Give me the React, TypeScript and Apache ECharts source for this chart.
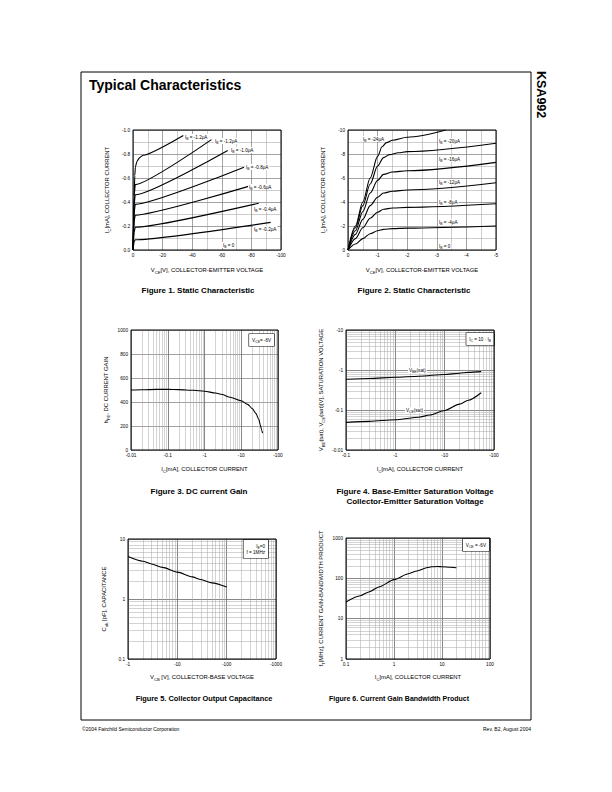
import React, { useEffect, useRef } from 'react';
import * as echarts from 'echarts';

const FONT = '"Liberation Sans", Arial, Helvetica, sans-serif';

// ---------------- Figure 1: Static Characteristic (|VCE| V, |IC| mA)
const fig1XTicks = [0, 20, 40, 60, 80, 100];
const fig1YTicks = [0, 0.2, 0.4, 0.6, 0.8, 1.0];
const fig1IbTop = [[0, 0], [0.8, 0.45], [1.2, 0.62], [1.6, 0.69], [2.7, 0.74], [4.5, 0.77], [6.8, 0.79], [34, 0.955]];
const fig1Ib12 = [[0, 0], [0.8, 0.45], [1.5, 0.545], [53, 0.92]];
const fig1Ib10 = [[0, 0], [0.8, 0.38], [1.5, 0.46], [64, 0.83]];
const fig1Ib08 = [[0, 0], [0.8, 0.31], [1.5, 0.38], [75, 0.69]];
const fig1Ib06 = [[0, 0], [0.8, 0.24], [1.5, 0.29], [78, 0.53]];
const fig1Ib04 = [[0, 0], [0.8, 0.15], [1.5, 0.19], [85, 0.39]];
const fig1Ib02 = [[0, 0], [0.8, 0.07], [1.5, 0.085], [93, 0.23]];
const fig1Labels = ['-1.2μA', '-1.2μA', '-1.0μA', '-0.8μA', '-0.6μA', '-0.4μA', '-0.2μA', '0'];

// ---------------- Figure 2: Static Characteristic (|VCE| V, |IC| mA)
const fig2XTicks = [0, 1, 2, 3, 4, 5];
const fig2YTicks = [0, 2, 4, 6, 8, 10];
const fig2Ib24 = [[0, 0], [0.25, 2.0], [0.5, 4.0], [0.75, 6.0], [1.0, 7.8], [1.15, 8.6], [1.3, 8.95], [1.5, 9.15], [2, 9.4], [3.3, 10.0]];
const fig2Ib20 = [[0, 0], [0.25, 1.85], [0.5, 3.7], [0.75, 5.5], [1.0, 7.0], [1.2, 7.7], [1.4, 7.95], [1.7, 8.1], [2, 8.2], [5, 8.9]];
const fig2Ib16 = [[0, 0], [0.25, 1.6], [0.5, 3.2], [0.75, 4.75], [1.0, 5.8], [1.2, 6.3], [1.5, 6.5], [2, 6.6], [5, 7.3]];
const fig2Ib12 = [[0, 0], [0.25, 1.3], [0.5, 2.55], [0.75, 3.7], [1.0, 4.4], [1.2, 4.75], [1.5, 4.9], [2, 5.0], [5, 5.6]];
const fig2Ib08 = [[0, 0], [0.25, 0.95], [0.5, 1.85], [0.75, 2.65], [1.0, 3.15], [1.2, 3.4], [1.5, 3.5], [2, 3.55], [5, 3.85]];
const fig2Ib04 = [[0, 0], [0.25, 0.5], [0.5, 0.95], [0.75, 1.35], [1.0, 1.6], [1.2, 1.72], [1.5, 1.78], [2, 1.82], [5, 2.0]];
const fig2Labels = ['-24μA', '-20μA', '-16μA', '-12μA', '-8μA', '-4μA', '0'];

// ---------------- Figure 3: DC current gain (|IC| mA, hFE)
const fig3Ic = [0.01, 0.02, 0.05, 0.1, 0.2, 0.5, 1, 2, 3, 5, 10, 15, 20, 25, 30, 33, 36, 38];
const fig3Hfe = [500, 502, 505, 505, 503, 498, 490, 475, 462, 440, 410, 380, 345, 305, 255, 210, 165, 140];
const fig3YTicks = [0, 200, 400, 600, 800, 1000];

// ---------------- Figure 4: Saturation voltages (|IC| mA, |V|)
const fig4Ic = [0.1, 0.3, 1, 3, 10, 20, 30, 55];
const fig4Vbe = [0.585, 0.615, 0.656, 0.7, 0.775, 0.83, 0.87, 0.91];
const fig4IcCe = [0.1, 0.3, 1, 3, 5, 10, 20, 30, 55];
const fig4Vce = [0.049, 0.052, 0.057, 0.066, 0.075, 0.097, 0.14, 0.175, 0.27];

// ---------------- Figure 5: Collector output capacitance (|VCB| V, Cob pF)
const fig5Vcb = [1, 2, 3, 5, 10, 20, 30, 50, 100];
const fig5Cob = [5.1, 4.26, 3.84, 3.36, 2.8, 2.34, 2.11, 1.86, 1.58];

// ---------------- Figure 6: Current gain bandwidth product (|IC| mA, fT MHz)
const fig6Ic = [0.1, 0.2, 0.3, 0.5, 1, 2, 3, 5, 6, 8, 10, 15, 20];
const fig6Ft = [26, 37, 46, 62, 93, 130, 152, 185, 193, 196, 194, 188, 183];

const logMinorSteps = [2, 3, 4, 5, 6, 7, 8, 9];

const GRIDS = [
  { left: 133, top: 130, width: 148, height: 120 },
  { left: 348, top: 130, width: 148, height: 120 },
  { left: 131, top: 330, width: 147, height: 120 },
  { left: 346, top: 330, width: 148, height: 120 },
  { left: 128, top: 539, width: 148, height: 120 },
  { left: 346, top: 538, width: 144, height: 121 },
];

const zip = (xs: number[], ys: number[]) => xs.map((x, i) => [x, ys[i]]);
const num = (v: number) => String(+(+v).toPrecision(6));
const neg = (v: number) => (Math.abs(v) < 1e-12 ? '0' : '-' + num(v));

function logMinors(min: number, max: number) {
  const out: number[] = [];
  const e0 = Math.round(Math.log10(min));
  const e1 = Math.round(Math.log10(max));
  for (let e = e0; e < e1; e++) for (const m of logMinorSteps) out.push(+(m * Math.pow(10, e)).toPrecision(6));
  return out;
}

const TICK_FONT = { fontSize: 4.7, color: '#000', fontFamily: FONT, margin: 3 };
const NAME_FONT = {
  fontSize: 5.9, color: '#000', fontFamily: FONT, lineHeight: 8,
  rich: { s: { fontSize: 4.2, lineHeight: 4, verticalAlign: 'bottom', fontFamily: FONT, color: '#000' } },
};
const MAJOR = { show: true, lineStyle: { color: '#7a7a7a', width: 0.7 } };
const MINOR = { show: true, lineStyle: { color: '#9a9a9a', width: 0.5 } };

function linAxis(gi: number, min: number, max: number, interval: number, fmt: (v: number) => string, name: string, gap: number, isY: boolean, minorSplit = 2) {
  return {
    type: 'value', gridIndex: gi, min, max, interval,
    axisLine: { show: false }, axisTick: { show: false },
    axisLabel: { ...TICK_FONT, formatter: fmt, showMinLabel: true, showMaxLabel: true },
    splitLine: MAJOR,
    minorTick: { show: false, splitNumber: minorSplit },
    minorSplitLine: MINOR,
    name, nameLocation: 'middle', nameGap: gap, nameTextStyle: NAME_FONT,
    nameRotate: isY ? 90 : 0,
  };
}
function logAxis(gi: number, min: number, max: number, fmt: (v: number) => string, name: string, gap: number, isY: boolean) {
  return {
    type: 'log', logBase: 10, gridIndex: gi, min, max,
    axisLine: { show: false }, axisTick: { show: false },
    axisLabel: { ...TICK_FONT, formatter: fmt, showMinLabel: true, showMaxLabel: true },
    splitLine: { show: true, lineStyle: { color: '#6a6a6a', width: 0.8 } },
    name, nameLocation: 'middle', nameGap: gap, nameTextStyle: NAME_FONT,
    nameRotate: isY ? 90 : 0,
  };
}

function curve(gi: number, data: number[][], smooth = 0.25) {
  return {
    type: 'line', xAxisIndex: gi, yAxisIndex: gi, data, symbol: 'none', showSymbol: false,
    smooth, smoothMonotone: 'x', silent: true, z: 3,
    lineStyle: { color: '#000', width: 1.1 },
  };
}
function minorGrid(gi: number, xs: number[], ys: number[], anchor: number[]) {
  return {
    type: 'line', xAxisIndex: gi, yAxisIndex: gi, data: [anchor], symbol: 'none', showSymbol: false,
    silent: true, z: 1, lineStyle: { width: 0 },
    markLine: {
      silent: true, z: 1, symbol: ['none', 'none'], label: { show: false },
      lineStyle: { color: '#a6a6a6', width: 0.5, type: 'solid' },
      emphasis: { disabled: true },
      data: [...xs.map((v) => ({ xAxis: v })), ...ys.map((v) => ({ yAxis: v }))],
    },
  };
}

const sub = (a: string, b: string, rest: string) => `${a}{s|${b}}${rest}`;

function buildOption() {
  const fig1Data = [fig1IbTop, fig1Ib12, fig1Ib10, fig1Ib08, fig1Ib06, fig1Ib04, fig1Ib02];
  const fig2Data = [fig2Ib24, fig2Ib20, fig2Ib16, fig2Ib12, fig2Ib08, fig2Ib04];

  const xAxis = [
    linAxis(0, fig1XTicks[0], fig1XTicks[fig1XTicks.length - 1], fig1XTicks[1] - fig1XTicks[0], neg, sub('V', 'CE', '[V], COLLECTOR-EMITTER VOLTAGE'), 16, false),
    linAxis(1, fig2XTicks[0], fig2XTicks[fig2XTicks.length - 1], fig2XTicks[1] - fig2XTicks[0], neg, sub('V', 'CE', '[V], COLLECTOR-EMITTER VOLTAGE'), 16, false),
    logAxis(2, 0.01, 100, neg, sub('I', 'C', '[mA], COLLECTOR CURRENT'), 15, false),
    logAxis(3, 0.1, 100, neg, sub('I', 'C', '[mA], COLLECTOR CURRENT'), 15, false),
    logAxis(4, 1, 1000, neg, sub('V', 'CB', ' [V], COLLECTOR-BASE VOLTAGE'), 14, false),
    logAxis(5, 0.1, 100, num, sub('I', 'C', '[mA], COLLECTOR CURRENT'), 14, false),
  ];
  const yAxis = [
    linAxis(0, fig1YTicks[0], fig1YTicks[fig1YTicks.length - 1], 0.2, (v) => (v === 0 ? '0.0' : '-' + v.toFixed(1)), sub('I', 'C', '[mA], COLLECTOR CURRENT'), 22, true),
    linAxis(1, fig2YTicks[0], fig2YTicks[fig2YTicks.length - 1], 2, neg, sub('I', 'C', '[mA], COLLECTOR CURRENT'), 21, true),
    linAxis(2, fig3YTicks[0], fig3YTicks[fig3YTicks.length - 1], 200, num, sub('h', 'FE', ', DC CURRENT GAIN'), 21, true, 1),
    logAxis(3, 0.01, 10, neg, sub('V', 'BE', '(sat), ') + sub('V', 'CE', '(sat)[V], SATURATION VOLTAGE'), 21, true),
    logAxis(4, 0.1, 10, num, sub('C', 'ob', ' [pF], CAPACITANCE'), 20, true),
    logAxis(5, 1, 1000, num, sub('f', 'T', '[MHz], CURRENT GAIN-BANDWIDTH PRODUCT'), 21, true),
  ];

  const series: any[] = [
    ...fig1Data.map((d) => curve(0, d, 0.15)),
    ...fig2Data.map((d) => curve(1, d, 0.3)),
    curve(2, zip(fig3Ic, fig3Hfe)),
    curve(3, zip(fig4Ic, fig4Vbe)),
    curve(3, zip(fig4IcCe, fig4Vce)),
    curve(4, zip(fig5Vcb, fig5Cob)),
    curve(5, zip(fig6Ic, fig6Ft)),
    minorGrid(2, logMinors(0.01, 100), [], [0.01, 0]),
    minorGrid(3, logMinors(0.1, 100), logMinors(0.01, 10), [0.1, 0.01]),
    minorGrid(4, logMinors(1, 1000), logMinors(0.1, 10), [1, 0.1]),
    minorGrid(5, logMinors(0.1, 100), logMinors(1, 1000), [0.1, 1]),
  ];

  const LBL = { fontSize: 4.6, fill: '#000', fontFamily: FONT, backgroundColor: '#fff', padding: [0, 1], verticalAlign: 'middle', align: 'left',
    lineHeight: 6, rich: { s: { fontSize: 3.4, lineHeight: 3.5, verticalAlign: 'bottom', fontFamily: FONT } } };
  const ibText = (v: string) => `I{s|B} = ${v}`;
  const fig1Pos = [[184, 137], [214, 141], [230, 150], [245, 167], [248, 187], [253, 209], [253, 229], [222, 245]];
  const fig2Pos = [[362, 139], [438, 141], [438, 159], [438, 182], [438, 202], [438, 222], [438, 246]];

  const BOX = { fontSize: 4.6, fill: '#000', fontFamily: FONT, backgroundColor: '#fff', borderColor: '#000', borderWidth: 0.6,
    padding: [3, 3], lineHeight: 6, align: 'right', verticalAlign: 'top',
    rich: { s: { fontSize: 3.4, lineHeight: 3.5, verticalAlign: 'bottom', fontFamily: FONT } } };

  const CAP = { fontSize: 8, fontWeight: 'bold', fill: '#000', fontFamily: FONT, align: 'center', verticalAlign: 'middle', lineHeight: 10 };

  const elements: any[] = [
    { type: 'rect', shape: { x: 81, y: 72, width: 450, height: 648 }, style: { fill: 'none', stroke: '#000', lineWidth: 1 }, z: 10 },
    { type: 'text', x: 89, y: 85, style: { text: 'Typical Characteristics', fontSize: 14, fontWeight: 'bold', fill: '#000', fontFamily: FONT, verticalAlign: 'middle' } },
    { type: 'text', x: 541, y: 71, rotation: -Math.PI / 2, style: { text: 'KSA992', fontSize: 12.5, fontWeight: 'bold', fill: '#000', fontFamily: FONT, verticalAlign: 'middle', align: 'left' } },
    { type: 'text', x: 82, y: 729, style: { text: '©2004 Fairchild Semiconductor Corporation', fontSize: 5, fill: '#000', fontFamily: FONT, verticalAlign: 'middle' } },
    { type: 'text', x: 531, y: 729, style: { text: 'Rev. B2, August 2004', fontSize: 5, fill: '#000', fontFamily: FONT, verticalAlign: 'middle', align: 'right' } },
    { type: 'text', x: 198, y: 290, style: { ...CAP, text: 'Figure 1. Static Characteristic' } },
    { type: 'text', x: 414, y: 290, style: { ...CAP, text: 'Figure 2. Static Characteristic' } },
    { type: 'text', x: 199, y: 491, style: { ...CAP, text: 'Figure 3. DC current Gain' } },
    { type: 'text', x: 415, y: 496, style: { ...CAP, text: 'Figure 4. Base-Emitter Saturation Voltage\nCollector-Emitter Saturation Voltage' } },
    { type: 'text', x: 204, y: 698, style: { ...CAP, fontSize: 7.4, text: 'Figure 5. Collector Output Capacitance' } },
    { type: 'text', x: 399, y: 698, style: { ...CAP, fontSize: 7, text: 'Figure 6. Current Gain Bandwidth Product' } },
    ...fig1Labels.map((t, i) => ({ type: 'text', x: fig1Pos[i][0], y: fig1Pos[i][1], z: 5, style: { ...LBL, text: ibText(t) } })),
    ...fig2Labels.map((t, i) => ({ type: 'text', x: fig2Pos[i][0], y: fig2Pos[i][1], z: 5, style: { ...LBL, text: ibText(t) } })),
    { type: 'text', x: 408, y: 370, z: 5, style: { ...LBL, text: 'V{s|BE}(sat)' } },
    { type: 'text', x: 405, y: 410, z: 5, style: { ...LBL, text: 'V{s|CE}(sat)' } },
    { type: 'text', x: 274, y: 334, z: 5, style: { ...BOX, text: 'V{s|CE}= -6V' } },
    { type: 'text', x: 494, y: 333, z: 5, style: { ...BOX, text: 'I{s|C} = 10 · I{s|B}' } },
    { type: 'text', x: 268, y: 540, z: 5, style: { ...BOX, align: 'right', text: 'I{s|E}=0\nf = 1MHz' } },
    { type: 'text', x: 489, y: 539, z: 5, style: { ...BOX, text: 'V{s|CE} = -6V' } },
    ...GRIDS.map((g) => ({ type: 'rect', z: 10, shape: { x: g.left, y: g.top, width: g.width, height: g.height }, style: { fill: 'none', stroke: '#000', lineWidth: 1 } })),
  ];

  return {
    animation: false,
    backgroundColor: '#fff',
    textStyle: { fontFamily: FONT },
    grid: GRIDS.map((g) => ({ ...g, containLabel: false })),
    xAxis, yAxis, series,
    graphic: { elements },
  };
}

export default function App() {
  const ref = useRef<HTMLDivElement>(null);
  useEffect(() => {
    const chart = echarts.init(ref.current as HTMLDivElement, null, { renderer: 'svg', width: 612, height: 792 });
    chart.setOption(buildOption() as any);
    return () => chart.dispose();
  }, []);
  return <div ref={ref} style={{ position: 'absolute', left: 0, top: 0, width: 612, height: 792, background: '#fff' }} />;
}
